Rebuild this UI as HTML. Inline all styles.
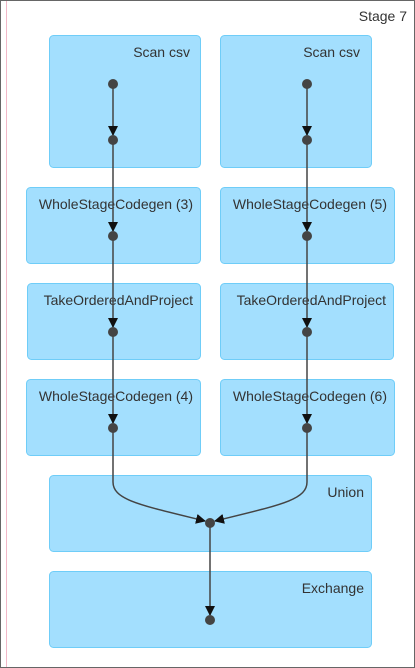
<!DOCTYPE html>
<html><head><meta charset="utf-8"><style>
html,body{margin:0;padding:0;background:#fff;}
svg{display:block;font-family:"Liberation Sans",sans-serif;}
</style></head><body>
<svg width="415" height="668" viewBox="0 0 415 668">
<defs>
<marker id="arr" viewBox="0 0 10 10" refX="9" refY="5" markerWidth="10" markerHeight="10" markerUnits="userSpaceOnUse" orient="auto">
<path d="M0,0 L10,5 L0,10 z" fill="#111"/></marker>
</defs>
<rect x="0.5" y="0.5" width="414" height="667" fill="#fff" stroke="#666"/>
<line x1="6.5" y1="1" x2="6.5" y2="667" stroke="#f2b8c8" stroke-width="1"/>
<text x="407" y="21" text-anchor="end" font-size="14" fill="#333">Stage 7</text>
<g fill="#a3dffe" stroke="#6fcdf8" stroke-width="1">
<rect x="49.5" y="35.5" width="151" height="132" rx="4"/>
<rect x="220.5" y="35.5" width="151" height="132" rx="4"/>
<rect x="26.5" y="187.5" width="174" height="76" rx="4"/>
<rect x="220.5" y="187.5" width="174" height="76" rx="4"/>
<rect x="27.5" y="283.5" width="173" height="76" rx="4"/>
<rect x="220.5" y="283.5" width="173" height="76" rx="4"/>
<rect x="26.5" y="379.5" width="174" height="76" rx="4"/>
<rect x="220.5" y="379.5" width="174" height="76" rx="4"/>
<rect x="49.5" y="475.5" width="322" height="76" rx="4"/>
<rect x="49.5" y="571.5" width="322" height="76" rx="4"/>
</g>
<g font-size="14" fill="#333" text-anchor="end">
<text x="190" y="57">Scan csv</text>
<text x="360" y="57">Scan csv</text>
<text x="193" y="209">WholeStageCodegen (3)</text>
<text x="387" y="209">WholeStageCodegen (5)</text>
<text x="193" y="305">TakeOrderedAndProject</text>
<text x="386" y="305">TakeOrderedAndProject</text>
<text x="193" y="401">WholeStageCodegen (4)</text>
<text x="387" y="401">WholeStageCodegen (6)</text>
<text x="364" y="497">Union</text>
<text x="364" y="593">Exchange</text>
</g>
<g stroke="#444" stroke-width="1.5" fill="none" marker-end="url(#arr)">
<line x1="113" y1="84" x2="113" y2="135"/>
<line x1="113" y1="140" x2="113" y2="231"/>
<line x1="113" y1="236" x2="113" y2="327"/>
<line x1="113" y1="332" x2="113" y2="423"/>
<line x1="307" y1="84" x2="307" y2="135"/>
<line x1="307" y1="140" x2="307" y2="231"/>
<line x1="307" y1="236" x2="307" y2="327"/>
<line x1="307" y1="332" x2="307" y2="423"/>
<path d="M113,428 L113,482 C113,500 140,505 205,521"/>
<path d="M307,428 L307,482 C307,500 280,505 215,521"/>
<line x1="210" y1="523" x2="210" y2="615"/>
</g>
<g fill="#444">
<circle cx="113" cy="84" r="5"/>
<circle cx="113" cy="140" r="5"/>
<circle cx="113" cy="236" r="5"/>
<circle cx="113" cy="332" r="5"/>
<circle cx="113" cy="428" r="5"/>
<circle cx="307" cy="84" r="5"/>
<circle cx="307" cy="140" r="5"/>
<circle cx="307" cy="236" r="5"/>
<circle cx="307" cy="332" r="5"/>
<circle cx="307" cy="428" r="5"/>
<circle cx="210" cy="523" r="5"/>
<circle cx="210" cy="620" r="5"/>
</g>
</svg>
</body></html>
